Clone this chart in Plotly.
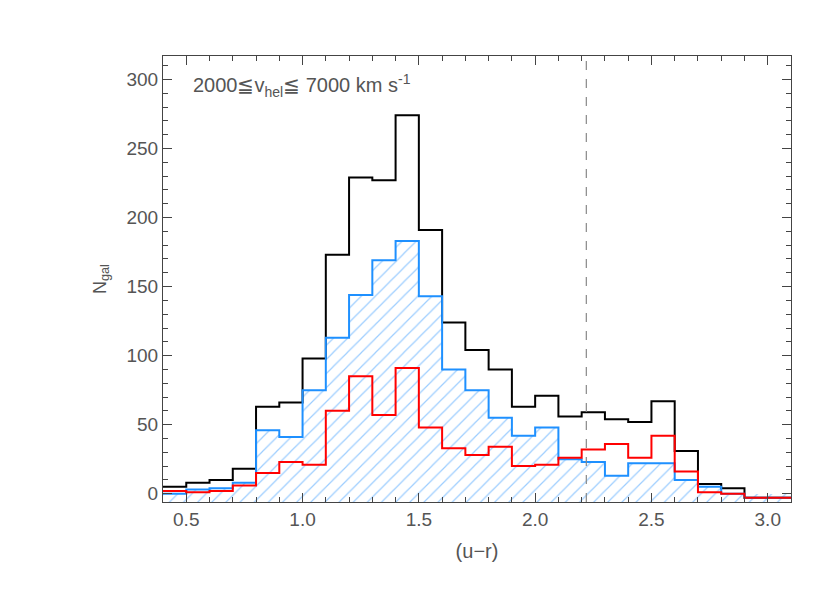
import plotly.graph_objects as go

# bin left edges, width 0.1
edges = [0.4 + 0.1 * i for i in range(27)]
black = [5, 8, 10, 18, 63, 66, 98, 173, 229, 227, 274, 191, 124, 104, 90, 63, 71, 56, 59, 54, 52, 67, 31, 7, 4, -3, -3]
blue = [0, 3, 4, 8, 46, 41, 75, 113, 144, 169, 183, 143, 90, 75, 55, 42, 48, 25, 23, 13, 22, 22, 10, 5, 0, -3, -3]
red = [2, 1, 2, 6, 15, 23, 21, 60, 85, 57, 91, 48, 33, 28, 34, 20, 21, 26, 32, 36, 26, 42, 16, 1, 0, -3, -3]
vcut = 2.22
ymin = -6


def steps(vals):
    xs = edges + [edges[-1] + 0.1]
    return xs, vals + [vals[-1]]


fig = go.Figure()
fig.add_trace(go.Bar(x=[e + 0.05 for e in edges], y=[max(v, 0) - ymin for v in blue], width=0.1,
                     base=ymin,
                     marker=dict(color="rgba(0,0,0,0)", line_width=0,
                                 pattern=dict(shape="/", fgcolor="#3a9cff", size=10, solidity=0.12)),
                     showlegend=False))
for vals, col in [(black, "black"), (blue, "#1e90ff"), (red, "red")]:
    xs, ys = steps(vals)
    fig.add_trace(go.Scatter(x=xs, y=ys, mode="lines", line=dict(color=col, width=2, shape="hv"),
                             showlegend=False))
fig.add_shape(type="line", x0=vcut, x1=vcut, y0=0, y1=1, yref="y domain",
              line=dict(color="#888", width=1.2, dash="dash"))
fig.add_annotation(x=0.045, y=0.97, xref="paper", yref="paper", xanchor="left", yanchor="top",
                   text="2000≦v<sub>hel</sub>≦ 7000 km s<sup>-1</sup>", showarrow=False,
                   font=dict(size=20, color="#555"))

ax = dict(showline=True, mirror="ticks", linecolor="#444", linewidth=1, ticks="inside",
          ticklen=9, tickcolor="#444", showgrid=False, zeroline=False,
          minor=dict(ticks="inside", ticklen=5, tickcolor="#444"))
fig.update_xaxes(range=[0.4, 3.1], dtick=0.5, tick0=0.5, tickformat=".1f",
                 minor_dtick=0.1, title=dict(text="(u−r)", font=dict(size=20, color="#555")),
                 tickfont=dict(size=19, color="#555"), **ax)
fig.update_yaxes(range=[ymin, 317], dtick=50, minor_dtick=10,
                 title=dict(text="N<sub>gal</sub>", font=dict(size=18, color="#555")),
                 tickfont=dict(size=19, color="#555"), **ax)
fig.update_layout(width=830, height=593, margin=dict(l=155, r=47, t=48, b=99),
                  plot_bgcolor="white", paper_bgcolor="white", bargap=0,
                  font=dict(family="Liberation Sans"))
fig.write_html("out.html")
